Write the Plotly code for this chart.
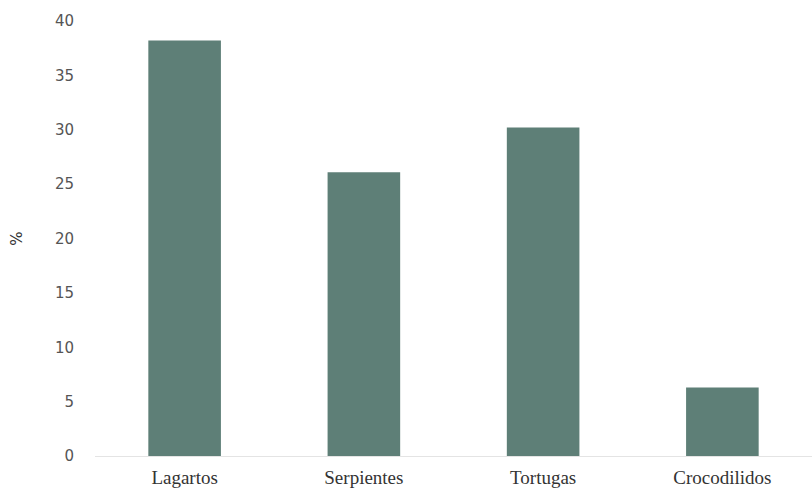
import plotly.graph_objects as go

categories = ["Lagartos", "Serpientes", "Tortugas", "Crocodilidos"]
values = [38.2, 26.1, 30.2, 6.3]
y_ticks = [0, 5, 10, 15, 20, 25, 30, 35, 40]

fig = go.Figure(go.Bar(x=categories, y=values, marker=dict(color="#5E7F77", line=dict(width=0))))

fig.update_layout(
    width=812, height=489,
    margin=dict(l=95, r=0, t=21, b=33),
    paper_bgcolor="white", plot_bgcolor="white",
    bargap=0.595,
    showlegend=False,
    xaxis=dict(
        showline=True, linecolor="#e4e4e4", linewidth=1,
        ticks="", tickfont=dict(family="Liberation Serif", size=19, color="#333333"),
        ticklabelstandoff=4,
        showgrid=False,
    ),
    yaxis=dict(
        range=[0, 40], tickvals=y_ticks, showgrid=False, zeroline=False,
        tickfont=dict(family="DejaVu Sans", size=15, color="#555555"),
        ticklabelstandoff=20,
        title=dict(text="%", font=dict(family="DejaVu Sans", size=15, color="#333333"), standoff=28),
    ),
)

fig.write_html("out.html")
